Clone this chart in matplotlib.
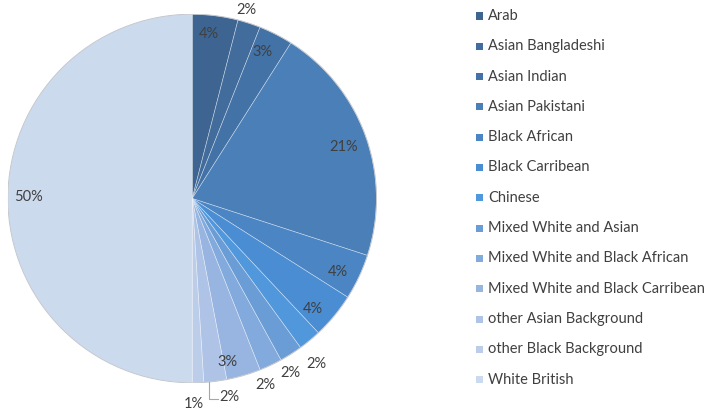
import matplotlib
matplotlib.use("Agg")
import matplotlib.pyplot as plt
from matplotlib.patches import Rectangle
import numpy as np

categories = ["Arab", "Asian Bangladeshi", "Asian Indian", "Asian Pakistani",
              "Black African", "Black Carribean", "Chinese", "Mixed White and Asian",
              "Mixed White and Black African", "Mixed White and Black Carribean",
              "other Asian Background", "other Black Background", "White British"]
values = [4, 2, 3, 21, 4, 4, 2, 2, 2, 3, 2, 1, 50]
colors = ["#3e6591", "#416c9c", "#4372a6", "#4a7fb8", "#4b85c4", "#4a8dd3",
          "#5097db", "#6a9cd6", "#83aadc", "#97b5e0", "#aec3e6", "#bccde9", "#ccdaee"]

# label radius (fraction of pie radius) and angle nudge (degrees) per wedge
label_r = [0.90, 1.067, 0.88, 0.87, 0.887, 0.89, 1.126, 1.085, 1.087, 0.907, 1.096, 1.116, 0.89]
label_nudge = [-1.3, -1.9, -1.2, 0.9, 1.6, 2.9, 2.7, 3.1, 3.9, 3.9, -3.3, 1.3, 0.6]

W, H = 709, 417
fig = plt.figure(figsize=(W / 100, H / 100), dpi=100)
fig.patch.set_facecolor("white")

cx, cy, R = 192.2, 198.5, 184.3
ax = fig.add_axes([(cx - R) / W, (H - cy - R) / H, 2 * R / W, 2 * R / H])
wedges, _ = ax.pie(values, colors=colors, startangle=90, counterclock=False,
                   radius=1.0, wedgeprops=dict(edgecolor=(1, 1, 1, 0.45), linewidth=0.5))
ax.set_xlim(-1, 1)
ax.set_ylim(-1, 1)
ax.set_aspect("equal")
ax.axis("off")
circ = plt.Circle((0, 0), 1.0, fill=False, edgecolor="#c4c8ce", linewidth=0.7)
ax.add_patch(circ)

font = "Lato"
tcol = "#404040"
fs = 10.5
total = sum(values)
cum = 0
for i, v in enumerate(values):
    mid0 = (cum + v / 2) / total * 360
    mid = mid0 + label_nudge[i]
    cum += v
    ang = np.deg2rad(mid)
    r = label_r[i]
    x = r * np.sin(ang)
    y = r * np.cos(ang)
    ax.text(x, y, f"{v}%", ha="center", va="center", fontsize=fs,
            family=font, color=tcol, clip_on=False)
    if categories[i] == "other Asian Background":
        edge_ang = np.deg2rad(mid0 + 1.9)
        ex, ey = np.sin(edge_ang), np.cos(edge_ang)
        ly = y - 0.01
        ax.plot([ex, ex, x - 0.06], [ey, ly, ly], color="#a6a6a6",
                linewidth=0.8, clip_on=False)

# legend
for i, (c, col) in enumerate(zip(categories, colors)):
    yc = 16 + i * 30.3
    fig.patches.append(Rectangle((476 / W, 1 - (yc + 3.5) / H), 7 / W, 7 / H,
                                 transform=fig.transFigure, facecolor=col,
                                 edgecolor="none"))
    fig.text(488 / W, 1 - yc / H, c, ha="left", va="center", fontsize=fs,
             family=font, color=tcol)

fig.savefig("out.png", dpi=100, facecolor="white")
